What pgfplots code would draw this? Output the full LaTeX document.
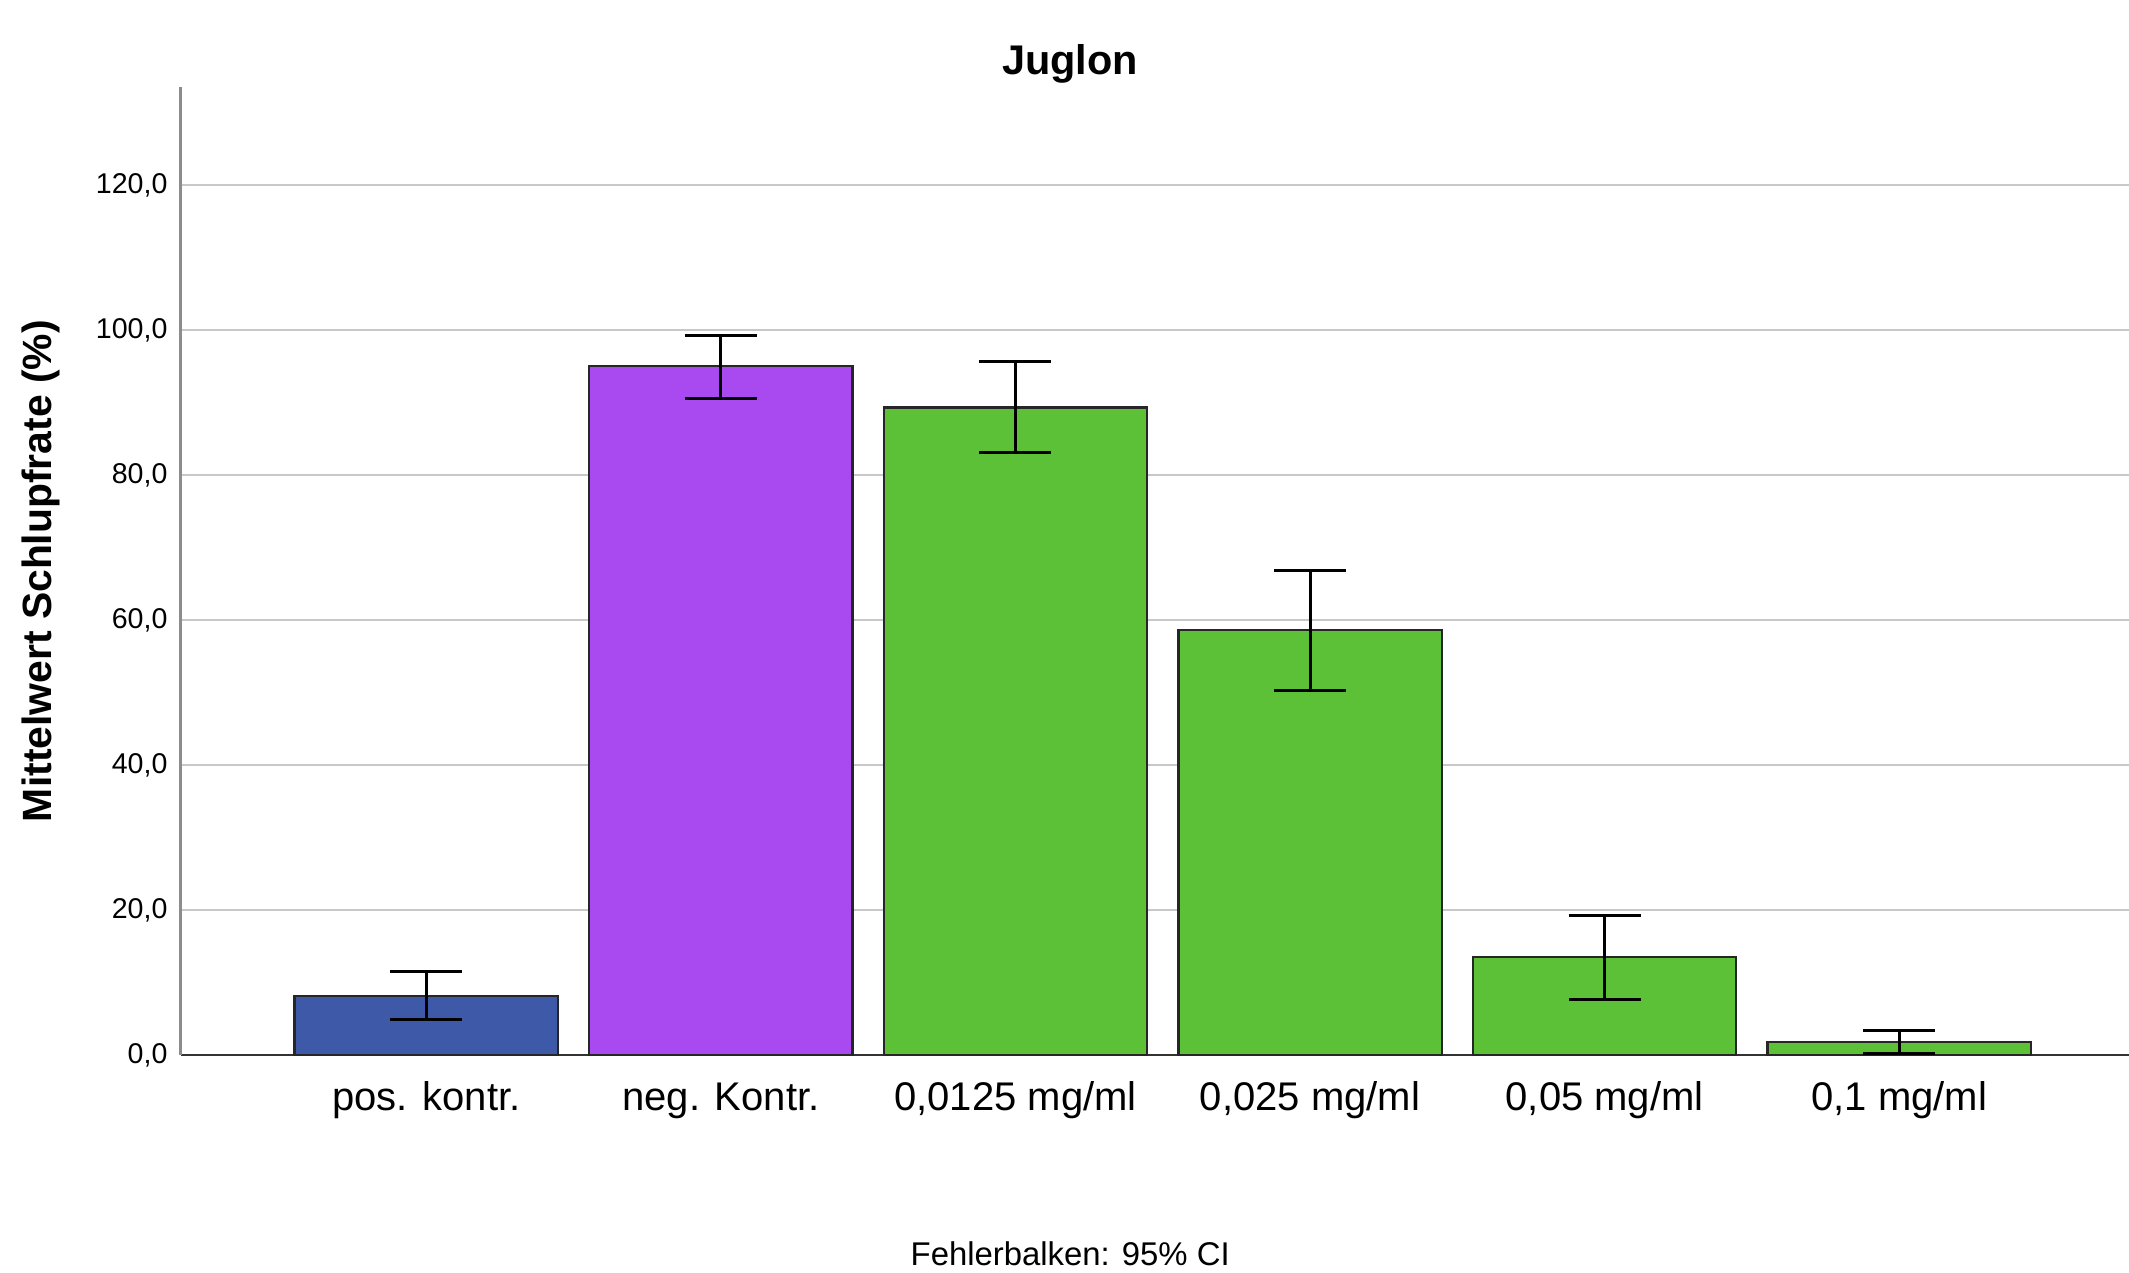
\documentclass[border=0pt]{standalone}
\usepackage{fontspec}
\setmainfont{Liberation Sans}
\usepackage{pgfplots}
\pgfplotsset{compat=1.18}
\definecolor{cblue}{RGB}{62,89,168}
\definecolor{cpurple}{RGB}{169,74,240}
\definecolor{cgreen}{RGB}{93,193,56}
\definecolor{cgrid}{RGB}{200,200,200}
\begin{document}
\begin{tikzpicture}
\useasboundingbox (-63.2pt,-75.95pt) rectangle (681.8pt,369.25pt);
\begin{axis}[
  at={(0pt,0pt)}, anchor=south west,
  scale only axis, width=681.8pt, height=338.8pt,
  xmin=-0.834, xmax=5.78, ymin=0, ymax=133.5,
  axis x line*=bottom, axis y line*=left,
  x axis line style={black!80, line width=0.8pt},
  y axis line style={black!45, line width=1.1pt},
  xtick={0,1,2,3,4,5},
  xticklabels={pos. kontr., neg. Kontr., {0,0125 mg/ml}, {0,025 mg/ml}, {0,05 mg/ml}, {0,1 mg/ml}},
  ytick={0,20,40,60,80,100,120},
  yticklabels={{0,0},{20,0},{40,0},{60,0},{80,0},{100,0},{120,0}},
  major tick length=0pt,
  xticklabel style={font=\fontsize{14}{16}\selectfont, anchor=base, inner sep=0pt, yshift=-19.4pt},
  yticklabel style={font=\fontsize{10}{12}\selectfont, anchor=east, inner sep=0pt, xshift=-4.4pt},
  ymajorgrids, grid style={cgrid, line width=0.7pt},
  ybar, bar shift=0pt, bar width=0.894,
  error bars/y dir=both, error bars/y explicit,
  error bars/error bar style={black, line width=1.05pt},
  error bars/error mark options={black, line width=1.05pt, mark size=12.6pt, rotate=90},
]
\addplot[fill=cblue, draw=black!85, line width=0.8pt] coordinates {(0,8.2) += (0,3.4) -= (0,3.3)};
\addplot[fill=cpurple, draw=black!85, line width=0.8pt] coordinates {(1,95.0) += (0,4.2) -= (0,4.4)};
\addplot[fill=cgreen, draw=black!85, line width=0.8pt] coordinates {
  (2,89.3) += (0,6.3) -= (0,6.2)
  (3,58.6) += (0,8.2) -= (0,8.3)
  (4,13.5) += (0,5.7) -= (0,5.8)
  (5,1.8) += (0,1.6) -= (0,1.5)
};
\end{axis}
\node[font=\bfseries\fontsize{14.5}{17}\selectfont] at (311.3pt,347pt) {Juglon};
\node[rotate=90, font=\bfseries\fontsize{14.3}{17}\selectfont] at (-49pt,169.4pt) {Mittelwert Schlupfrate (\%)};
\node[anchor=base, inner sep=0pt, font=\fontsize{11.5}{13}\selectfont] at (311.3pt,-73.6pt) {Fehlerbalken: 95\% CI};
\end{tikzpicture}
\end{document}
